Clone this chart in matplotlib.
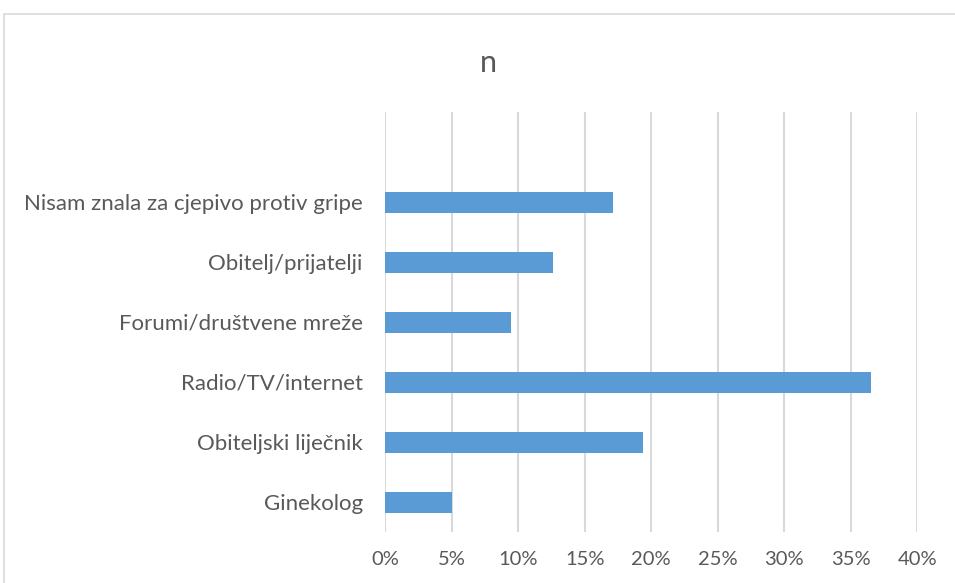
import matplotlib.pyplot as plt
from matplotlib.patches import Rectangle

# categories from bottom to top
categories = ['Ginekolog', 'Obiteljski liječnik', 'Radio/TV/internet',
              'Forumi/društvene mreže', 'Obitelj/prijatelji',
              'Nisam znala za cjepivo protiv gripe']
values = [5.0, 19.4, 36.5, 9.5, 12.6, 17.1]
xticks = [0, 5, 10, 15, 20, 25, 30, 35, 40]
xtick_labels = [f'{t}%' for t in xticks]
title = 'n'

plt.rcParams['font.family'] = ['Lato', 'DejaVu Sans']
text_color = '#595959'

fig = plt.figure(figsize=(9.55, 5.83), dpi=100)
# outer chart frame
fig.patches.append(Rectangle((4 / 955, -0.05), 1.1, 1 - 14 / 583 + 0.05,
                             transform=fig.transFigure, fill=False,
                             edgecolor='#d9d9d9', linewidth=1.2))

ax = fig.add_axes([385 / 955, 1 - 532 / 583, (917.3 - 385) / 955, (532 - 112) / 583])
y = list(range(len(categories)))
ax.barh(y, values, height=0.35, color='#5B9BD5', zorder=3)

ax.set_xlim(0, 40)
ax.set_ylim(-0.5, 6.5)
ax.set_xticks(xticks)
ax.set_xticklabels(xtick_labels)
ax.set_yticks(y)
ax.set_yticklabels(categories)
ax.xaxis.grid(True, color='#d9d9d9', linewidth=1.5, zorder=0)
ax.tick_params(axis='both', length=0, colors=text_color)
ax.tick_params(axis='y', pad=16, labelsize=16)
ax.tick_params(axis='x', pad=14, labelsize=14.5)
for s in ax.spines.values():
    s.set_visible(False)

fig.text(488 / 955, 1 - 63 / 583, title, ha='center', va='center',
         fontsize=22, color=text_color)

fig.savefig('out.png', dpi=100)
